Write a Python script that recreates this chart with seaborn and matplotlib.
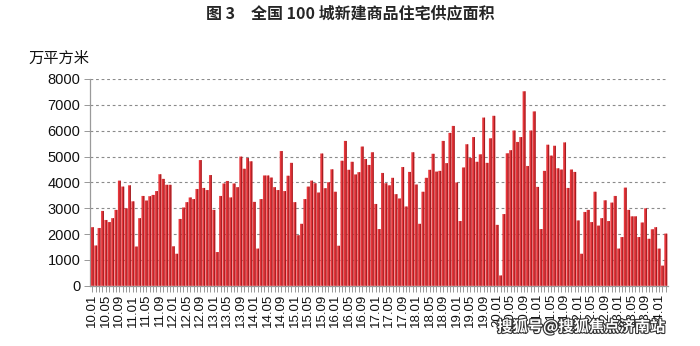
import matplotlib
matplotlib.use("Agg")
import matplotlib.pyplot as plt
import matplotlib.patheffects as pe
from matplotlib.patches import Rectangle
from matplotlib.ticker import MultipleLocator
import seaborn as sns
import pandas as pd

# Monthly supply of new commercial housing in 100 cities (10k m²)
v2010 = [2260, 1550, 2230, 2890, 2540, 2460, 2610, 2930, 4060, 3830, 2990, 3880]
v2011 = [3260, 1510, 2610, 3470, 3290, 3460, 3510, 3660, 4310, 4130, 3900, 3900]
v2012 = [1520, 1230, 2580, 3020, 3230, 3410, 3350, 3740, 4860, 3780, 3700, 4280]
v2013 = [2930, 1300, 3470, 3950, 4050, 3410, 3950, 3810, 4990, 4520, 4940, 4810]
v2014 = [3240, 1430, 3350, 4260, 4260, 4180, 3810, 3700, 5210, 3660, 4250, 4750]
v2015 = [3230, 1950, 2390, 3350, 3830, 4060, 3960, 3600, 5110, 3770, 4000, 4500]
v2016 = [3630, 1540, 4830, 5600, 4480, 4790, 4300, 4390, 5380, 4900, 4670, 5160]
v2017 = [3160, 2190, 4360, 3960, 3880, 4170, 3540, 3370, 4590, 3060, 4400, 5160]
v2018 = [3910, 2390, 3630, 4170, 4480, 5100, 4410, 4440, 5600, 4740, 5910, 6180]
v2019 = [3990, 2500, 4570, 5470, 4940, 5750, 4790, 5080, 6500, 4750, 5700, 6570]
v2020 = [2350, 390, 2770, 5120, 5240, 6000, 5560, 5750, 7520, 4630, 6000, 6740]
v2021 = [3820, 2190, 4440, 5450, 5030, 5410, 4540, 4490, 5540, 3780, 4490, 4400]
v2022 = [2520, 1230, 2850, 2930, 2460, 3630, 2320, 2610, 3300, 2500, 3210, 3470]
v2023 = [1430, 1880, 3790, 2930, 2680, 2680, 1880, 2440, 2990, 1810, 2180, 2260]
v2024 = [1430, 770, 2010]

yearly = [v2010, v2011, v2012, v2013, v2014, v2015, v2016, v2017,
          v2018, v2019, v2020, v2021, v2022, v2023, v2024]
first_year = 10

months = []
values = []
for i, vals in enumerate(yearly):
    for m, v in enumerate(vals, start=1):
        months.append(f"{first_year + i:02d}.{m:02d}")
        values.append(v)

df = pd.DataFrame({"month": months, "area": values})

title_text = "图 3　全国 100 城新建商品住宅供应面积"
unit_text = "万平方米"
mark_text = "搜狐号@搜狐焦点济南站"

sns.set_style("white")
plt.rcParams["font.family"] = ["Liberation Sans", "Noto Sans CJK SC", "DejaVu Sans"]

fig = plt.figure(figsize=(7.0, 3.46), dpi=100)
ax = fig.add_axes([0.1286, 0.1743, 0.8254, 0.5974])

bright = "#e8353a"
dark = "#9e1e22"
sns.barplot(data=df, x="month", y="area", color=bright, saturation=1,
            width=0.8, ax=ax, zorder=3)

# darker shading on the right side of each bar
for p in list(ax.patches):
    p.set_snap(False)
    p.set_edgecolor(bright)
    p.set_linewidth(0.15)
    w = p.get_width()
    shade = Rectangle((p.get_x() + 0.62 * w, p.get_y()), 0.38 * w,
                      p.get_height(), facecolor=dark, edgecolor="none",
                      zorder=3.5)
    shade.set_snap(False)
    ax.add_patch(shade)

ax.set_ylim(0, 8000)
ax.set_xlim(-0.7, len(months) - 0.4)
ax.yaxis.set_major_locator(MultipleLocator(1000))
ax.grid(axis="y", linestyle=(0, (2.5, 2.5)), color="#8a8a8a", linewidth=0.8,
        zorder=0)
ax.grid(axis="x", visible=False)

ax.set_xticks(range(0, len(months), 4))
ax.set_xticklabels(months[::4], rotation=90, fontsize=9.5, color="#111111")
ax.set_xticks(range(len(months)), minor=True)
ax.tick_params(axis="x", which="both", direction="out", length=4,
               width=0.6, color="#888888", bottom=True, pad=2)
ax.tick_params(axis="y", direction="out", length=4, width=0.6,
               color="#888888", left=True, labelsize=10.5, labelcolor="#111111",
               pad=3)

for s in ["top", "right"]:
    ax.spines[s].set_visible(False)
for s in ["left", "bottom"]:
    ax.spines[s].set_color("#9a9a9a")
    ax.spines[s].set_linewidth(0.9)

ax.set_xlabel("")
ax.set_ylabel("")

fig.text(0.5, 0.962, title_text, ha="center", va="center", fontsize=11.5,
         fontweight="bold", family=["Noto Sans CJK SC", "DejaVu Sans"])
fig.text(0.04, 0.832, unit_text, ha="left", va="center", fontsize=11,
         family=["Noto Sans CJK SC", "DejaVu Sans"], color="#111111")
fig.text(0.95, 0.055, mark_text, ha="right", va="center", fontsize=11,
         fontweight="bold", color="white",
         family=["Noto Sans CJK SC", "DejaVu Sans"],
         path_effects=[pe.withStroke(linewidth=1.6, foreground="#333333")])

fig.savefig("out.png", dpi=100)
